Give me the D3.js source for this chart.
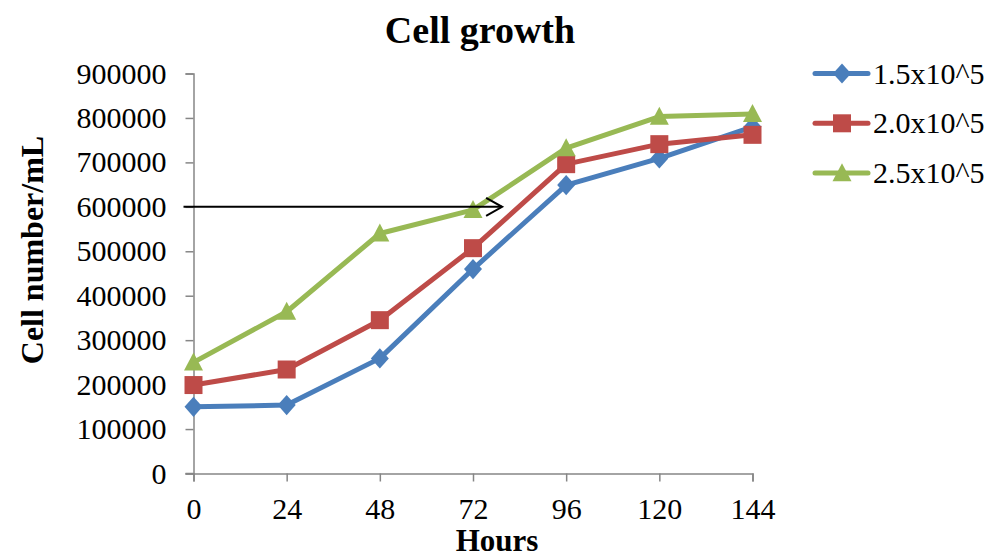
<!DOCTYPE html>
<html>
<head>
<meta charset="utf-8">
<script src="https://cdn.jsdelivr.net/npm/d3@7"></script>
<style>
  html, body { margin: 0; padding: 0; background: #fff; }
  svg { display: block; font-family: "Liberation Serif", "Times New Roman", serif; }
</style>
</head>
<body>
<svg id="chart" width="994" height="559"></svg>
<script>
// Sampling times (hours) and cell counts per seeding density
const hours = [0, 24, 48, 72, 96, 120, 144];
const seriesNames = ["1.5x10^5", "2.0x10^5", "2.5x10^5"];
const density15 = [150000, 154000, 259000, 460000, 649000, 709000, 780000];
const density20 = [199000, 234000, 345000, 507000, 696000, 741000, 762000];
const density25 = [250000, 364000, 540000, 593000, 732000, 803000, 809000];
const yTicks = [0, 100000, 200000, 300000, 400000, 500000, 600000, 700000, 800000, 900000];
const arrowLevel = 600000;
const arrowEndHour = 79.5;

const colors = ["#4A7EBB", "#BE4B48", "#98B954"];
const seriesValues = [density15, density20, density25];

// Marker shapes: diamond, square and triangle, each about 18px across
const diamond = { draw(ctx, size) { const w = Math.sqrt(size) / 2, h = w * 1.12;
  ctx.moveTo(0, -h); ctx.lineTo(w, 0); ctx.lineTo(0, h); ctx.lineTo(-w, 0); ctx.closePath(); } };
const square = { draw(ctx, size) { const w = Math.sqrt(size) / 2;
  ctx.rect(-w, -w, 2 * w, 2 * w); } };
const triangle = { draw(ctx, size) { const w = Math.sqrt(size) / 2;
  ctx.moveTo(0, -w * 1.05); ctx.lineTo(w, w * 0.85); ctx.lineTo(-w, w * 0.85); ctx.closePath(); } };
const shapes = [diamond, square, triangle];
const sizes = [324, 324, 361];

const svg = d3.select("#chart");
const plotLeft = 193.5, plotRight = 752.5, plotTop = 73.5, plotBottom = 473.5;

const x = d3.scalePoint().domain(hours).range([plotLeft, plotRight]);
const y = d3.scaleLinear().domain([0, 900000]).range([plotBottom, plotTop]);

// Axes
const yAxis = svg.append("g").attr("transform", `translate(${plotLeft},0)`)
  .call(d3.axisLeft(y).tickValues(yTicks).tickSize(8).tickPadding(19).tickFormat(d3.format("d")));
const xAxis = svg.append("g").attr("transform", `translate(0,${plotBottom})`)
  .call(d3.axisBottom(x).tickSize(8).tickPadding(16));
[yAxis, xAxis].forEach(g => {
  g.select(".domain").attr("stroke", "#868686").attr("stroke-width", 1.5);
  g.selectAll(".tick line").attr("stroke", "#868686").attr("stroke-width", 1.5);
  g.selectAll(".tick text").attr("fill", "#000").style("font-size", "30px")
    .style("font-family", "'Liberation Serif', 'Times New Roman', serif");
});
// short stub of the x axis left of the origin
svg.append("line").attr("x1", plotLeft - 8).attr("x2", plotLeft).attr("y1", plotBottom).attr("y2", plotBottom)
  .attr("stroke", "#868686").attr("stroke-width", 1.5);

// Series lines and markers
const line = d3.line().x((d, i) => x(hours[i])).y(d => y(d));
seriesValues.forEach((vals, s) => {
  svg.append("path").datum(vals).attr("d", line)
    .attr("fill", "none").attr("stroke", colors[s]).attr("stroke-width", 5)
    .attr("stroke-linejoin", "round").attr("stroke-linecap", "round");
  svg.append("g").selectAll("path").data(vals).join("path")
    .attr("d", d3.symbol().type(shapes[s]).size(sizes[s]))
    .attr("transform", (d, i) => `translate(${x(hours[i])},${y(d)})`)
    .attr("fill", colors[s]);
});

// Annotation arrow at 600000
const ay = y(arrowLevel);
const ax1 = plotLeft - 10;
const ax2 = x(72) + (x(96) - x(72)) * (arrowEndHour - 72) / 24;
svg.append("line").attr("x1", ax1).attr("x2", ax2).attr("y1", ay).attr("y2", ay)
  .attr("stroke", "#000").attr("stroke-width", 2);
svg.append("path")
  .attr("d", `M${ax2 - 16},${ay - 9} L${ax2},${ay} L${ax2 - 16},${ay + 9}`)
  .attr("fill", "none").attr("stroke", "#000").attr("stroke-width", 2);

// Titles
svg.append("text").attr("x", 480).attr("y", 43).attr("text-anchor", "middle")
  .style("font-size", "38px").style("font-weight", "bold").text("Cell growth");
svg.append("text").attr("x", 497).attr("y", 551).attr("text-anchor", "middle")
  .style("font-size", "31px").style("font-weight", "bold").text("Hours");
svg.append("text").attr("transform", `translate(43,250) rotate(-90)`)
  .attr("text-anchor", "middle").style("font-size", "32px").style("font-weight", "bold")
  .text("Cell number/mL");

// Legend
const legend = svg.append("g");
seriesNames.forEach((name, s) => {
  const ly = 73.5 + s * 49.8;
  legend.append("line").attr("x1", 815).attr("x2", 868).attr("y1", ly).attr("y2", ly)
    .attr("stroke", colors[s]).attr("stroke-width", 5).attr("stroke-linecap", "round");
  legend.append("path").attr("d", d3.symbol().type(shapes[s]).size(sizes[s]))
    .attr("transform", `translate(842,${ly})`).attr("fill", colors[s]);
  legend.append("text").attr("x", 873).attr("y", ly + 10).style("font-size", "30px").text(name);
});
</script>
</body>
</html>
